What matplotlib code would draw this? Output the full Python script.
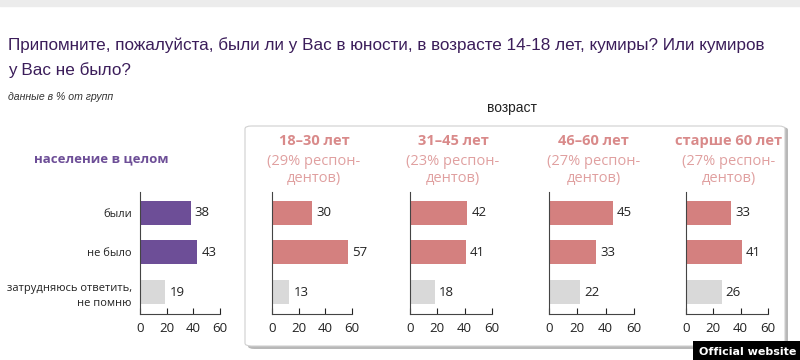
import matplotlib.pyplot as plt
from matplotlib.patches import FancyBboxPatch

# data
categories = ['были', 'не было', 'затрудняюсь ответить,\nне помню']
total = [38, 43, 19]
groups = ['18–30 лет', '31–45 лет', '46–60 лет', 'старше 60 лет']
shares = ['(29% респон-\nдентов)', '(23% респон-\nдентов)', '(27% респон-\nдентов)', '(27% респон-\nдентов)']
group_vals = [[30, 57, 13],
              [42, 41, 18],
              [45, 33, 22],
              [33, 41, 26]]
ticks = [0, 20, 40, 60]

W, H = 800, 360
purple = '#6d4e97'
pink = '#d4807f'
grey = '#d9d9d9'
head = '#d98a8a'

plt.rcParams['font.family'] = ['Open Sans', 'DejaVu Sans']

fig = plt.figure(figsize=(8, 3.6), dpi=100)
fig.patch.set_facecolor('white')

def fx(px):
    return px / W

def fy(py):
    return 1 - py / H

# top thin band
fig.patches.append(plt.Rectangle((0, fy(6)), 1, 6 / H, transform=fig.transFigure,
                                 color='#ececec', zorder=-3))

# box round the age groups, with a shadow
shadow = FancyBboxPatch((fx(248), fy(349)), fx(540), 222 / H,
                        boxstyle='round,pad=0,rounding_size=0.008',
                        transform=fig.transFigure, facecolor='#b8b8b8',
                        edgecolor='none', zorder=-2)
box = FancyBboxPatch((fx(245), fy(346)), fx(540), 220 / H,
                     boxstyle='round,pad=0,rounding_size=0.008',
                     transform=fig.transFigure, facecolor='white',
                     edgecolor='#d0d0d0', lw=0.8, zorder=-1)
fig.patches.extend([shadow, box])

# texts
narrow = ['Liberation Sans', 'DejaVu Sans']
fig.text(fx(8), fy(50), 'Припомните, пожалуйста, были ли у Вас в юности, в возрасте 14-18 лет, кумиры? Или кумиров',
         family=narrow, fontsize=12.35, color='#3b1d5a', va='baseline')
fig.text(fx(8), fy(75), 'у Вас не было?',
         family=narrow, fontsize=12.35, color='#3b1d5a', va='baseline')
fig.text(fx(8), fy(100), 'данные в % от групп', family=narrow,
         style='italic', fontsize=7.6, color='#333333', va='baseline')
fig.text(fx(512), fy(112), 'возраст', family=narrow,
         fontsize=10, color='#222222', ha='center', va='baseline')
fig.text(fx(101), fy(162), 'население в целом', fontsize=9.5, fontweight='bold',
         color=purple, ha='center', va='baseline')


def draw_panel(x0, x1, vals, colors, show_labels):
    ax = fig.add_axes([fx(x0), fy(314), fx(x1 - x0), 122 / H])
    ypos = range(len(vals))
    ax.barh(ypos, vals, height=0.6, color=colors)
    ax.set_xlim(0, 60)
    ax.set_ylim(2.55, -0.52)
    ax.set_xticks(ticks)
    ax.set_xticklabels([str(t) for t in ticks])
    ax.tick_params(axis='x', direction='in', length=4, width=0.8, labelsize=9.5,
                   pad=6, colors='#222222')
    for s in ['top', 'right']:
        ax.spines[s].set_visible(False)
    for s in ['left', 'bottom']:
        ax.spines[s].set_linewidth(0.8)
        ax.spines[s].set_color('#444444')
    ax.set_yticks(list(ypos))
    if show_labels:
        ax.set_yticklabels(categories, fontsize=8, color='#222222', linespacing=1.5)
        ax.tick_params(axis='y', length=0, pad=6)
    else:
        ax.set_yticks([])
    for i, v in enumerate(vals):
        ax.text(v + 3, i, str(v), va='center', ha='left', fontsize=9.5, color='#222222')
    ax.patch.set_alpha(0)
    return ax


draw_panel(140, 220, total, [purple, purple, grey], True)

panel_x = [(272, 352), (410, 492), (549, 634), (686, 768)]
for (x0, x1), g, sh, vals in zip(panel_x, groups, shares, group_vals):
    draw_panel(x0, x1, vals, [pink, pink, grey], False)
    cx = (x0 + x1) / 2 + 2
    fig.text(fx(cx), fy(145), g, fontsize=10.5, fontweight='bold', color=head,
             ha='center', va='baseline')
    fig.text(fx(cx), fy(170), sh, fontsize=10.5, color='#e0a0a0', ha='center',
             va='center', linespacing=1.25)

# watermark label
fig.text(fx(796), fy(352), 'Official website', fontsize=8, fontweight='bold',
         color='white', ha='right', va='center', family='DejaVu Sans',
         bbox=dict(facecolor='black', edgecolor='none', pad=4))

fig.savefig('out.png', dpi=100)
